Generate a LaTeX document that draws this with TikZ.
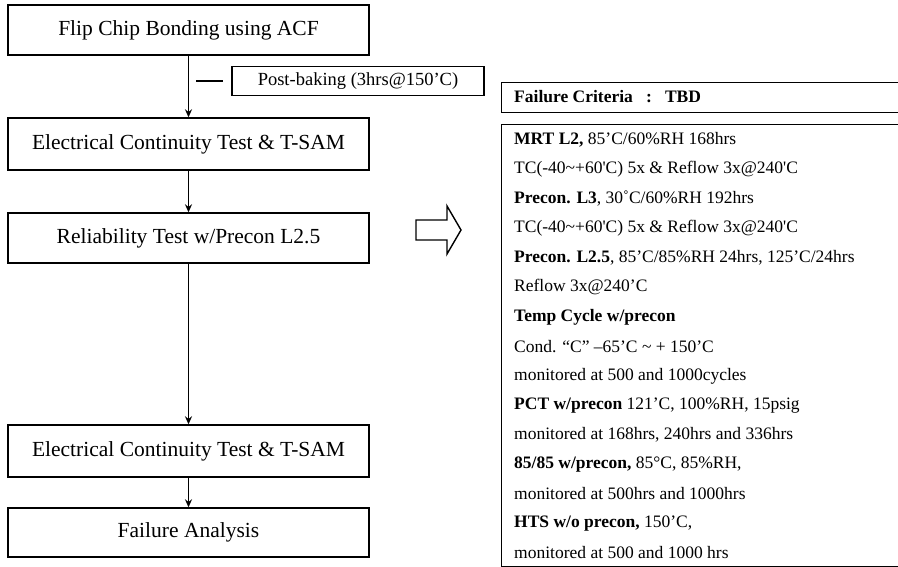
\documentclass[tikz,border=0pt]{standalone}
\usepackage{fontspec}
\setmainfont{Liberation Serif}
\usetikzlibrary{arrows.meta}
\begin{document}
\begin{tikzpicture}[x=1pt,y=-1pt,
  flowbox/.style={draw,line width=1.4pt,minimum width=361pt,minimum height=50pt,inner sep=0pt,font=\fontsize{21.5}{26}\selectfont},
  conn/.style={line width=1.3pt,-{Stealth[length=8pt,width=7pt]}},
  crit/.style={anchor=west,inner sep=0pt,font=\fontsize{17.5}{21}\selectfont},
]
\useasboundingbox (0,0) rectangle (898,567);
\clip (0,0) rectangle (898,567);
\node[flowbox] (b1) at (188.5,30) {Flip Chip Bonding using ACF};
\node[flowbox,minimum height=52pt] (b2) at (188.5,144) {Electrical Continuity Test \& T-SAM};
\node[flowbox] (b3) at (188.5,238) {Reliability Test w/Precon L2.5};
\node[flowbox,minimum height=52pt] (b4) at (188.5,451) {Electrical Continuity Test \& T-SAM};
\node[flowbox,minimum height=49pt] (b5) at (188.5,532.5) {Failure Analysis};
\node[draw,line width=1.4pt,minimum width=252pt,minimum height=29pt,inner sep=0pt,font=\fontsize{18.5}{22}\selectfont] (pb) at (358,81) {Post-baking (3hrs@150’C)};
\coordinate (pbl) at (196,81);
\draw[line width=1.3pt] (pbl) -- ([xshift=-8pt]pb.west);
\draw[conn] (b1) -- (b2);
\draw[conn] (b2) -- (b3);
\draw[conn] (b3) -- (b4);
\draw[conn] (b4) -- (b5);
% hollow arrow
\draw[line width=1.4pt,line join=miter] (416,220) -- (447,220) -- (447,206) -- (461,230) -- (447,254) -- (447,240) -- (416,240) -- cycle;
% failure criteria box
\node[draw,line width=1.4pt,anchor=north west,minimum width=420pt,minimum height=30pt,inner sep=0pt] (fc) at (501,82) {};
\node[crit] (fct) at (514,97) {\textbf{Failure Criteria\ \ \ :\ \ \ TBD}};
\node[draw,line width=1.4pt,anchor=north west,minimum width=420pt,minimum height=442pt,inner sep=0pt] (mb) at (501,124) {};
\node[crit] (l1) at (514,140) {\textbf{MRT L2,} 85’C/60\%RH 168hrs};
\node[crit] (l2) at (514,169.5) {TC(-40\textasciitilde+60\textquotesingle C) 5x \& Reflow 3x@240\textquotesingle C};
\node[crit] (l3) at (514,199) {\textbf{Precon. L3}, 30˚C/60\%RH 192hrs};
\node[crit] (l4) at (514,228.5) {TC(-40\textasciitilde+60\textquotesingle C) 5x \& Reflow 3x@240\textquotesingle C};
\node[crit] (l5) at (514,258) {\textbf{Precon. L2.5}, 85’C/85\%RH 24hrs, 125’C/24hrs};
\node[crit] (l6) at (514,287.5) {Reflow 3x@240’C};
\node[crit] (l7) at (514,317) {\textbf{Temp Cycle w/precon}};
\node[crit] (l8) at (514,346.5) {Cond. “C” –65’C \textasciitilde{} + 150’C};
\node[crit] (l9) at (514,376) {monitored at 500 and 1000cycles};
\node[crit] (l10) at (514,405.5) {\textbf{PCT w/precon} 121’C, 100\%RH, 15psig};
\node[crit] (l11) at (514,435) {monitored at 168hrs, 240hrs and 336hrs};
\node[crit] (l12) at (514,464.5) {\textbf{85/85 w/precon,} 85°C, 85\%RH,};
\node[crit] (l13) at (514,494) {monitored at 500hrs and 1000hrs};
\node[crit] (l14) at (514,523.5) {\textbf{HTS w/o precon,} 150’C,};
\node[crit] (l15) at (514,553) {monitored at 500 and 1000 hrs};
\end{tikzpicture}
\end{document}
